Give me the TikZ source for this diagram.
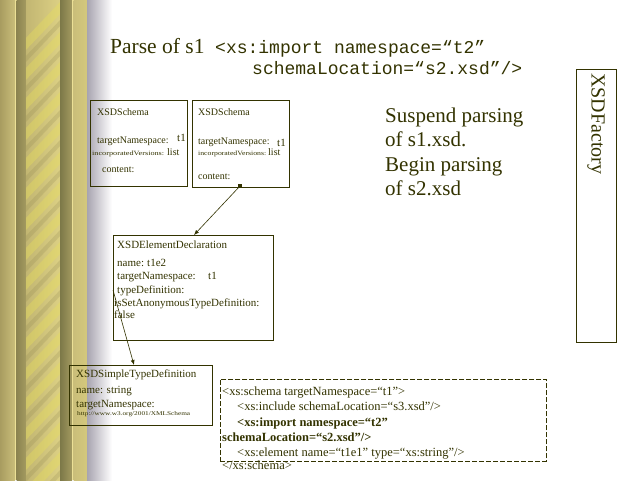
\documentclass[tikz,border=0pt]{standalone}
\usepackage{fontspec}
\setmainfont{Liberation Serif}
\setmonofont{Liberation Mono}
\usetikzlibrary{arrows.meta}
\definecolor{ink}{HTML}{333300}
\definecolor{goldA}{HTML}{A89C60}
\definecolor{goldB}{HTML}{CABE7A}
\definecolor{goldC}{HTML}{8C8450}
\definecolor{goldD}{HTML}{A39A60}
\definecolor{goldE}{HTML}{C2B672}
\definecolor{goldF}{HTML}{DCD084}
\definecolor{goldG}{HTML}{7C7848}
\definecolor{goldH}{HTML}{D4C87C}
\definecolor{goldLine}{HTML}{ECE096}
\definecolor{shadowA}{HTML}{A8A4B0}
\newcommand{\fsz}[1]{\fontsize{#1}{#1}\selectfont}
% tiny label squeezed into a fixed width and height
\newcommand{\tinylbl}[3]{\resizebox{#1}{#2}{\fsz{6}#3}}
\tikzset{
  lbl/.style={anchor=base west, inner sep=0pt, text=ink},
  umlbox/.style={draw=ink, line width=0.8pt, anchor=north west, inner sep=0pt},
  link/.style={draw=ink, line width=0.6pt, -{Latex[length=5pt,width=4pt]}},
}
\begin{document}
\begin{tikzpicture}[x=1pt,y=-1pt]
\useasboundingbox (0,0) rectangle (640,480);
\fill[white] (0,0) rectangle (640,480);

% decorative column on the left edge
\shade[left color=goldA, right color=goldB] (0,0) rectangle (15,480);
\fill[goldLine] (15,0) rectangle (16.5,480);
\shade[left color=goldC, right color=goldD] (16.5,0) rectangle (26,480);
\shade[left color=goldE, right color=goldF] (26,0) rectangle (60,480);
\begin{scope}
  \clip (26,0) rectangle (60,480);
  \foreach \k in {0,...,17} {
    \fill[goldF!70!yellow, opacity=0.4]
      (24,{30*\k+40}) -- (62,{30*\k}) -- (62,{30*\k+12}) -- (24,{30*\k+52}) -- cycle;
    \fill[goldC, opacity=0.22]
      (24,{30*\k+58}) -- (62,{30*\k+18}) -- (62,{30*\k+24}) -- (24,{30*\k+64}) -- cycle;
  }
\end{scope}
\shade[left color=goldG, right color=goldD] (60,0) rectangle (72,480);
\fill[goldLine] (72,0) rectangle (73.5,480);
\shade[left color=goldB, right color=goldH] (73.5,0) rectangle (87,480);
\shade[left color=shadowA, right color=white] (87,0) rectangle (112,480);

% title
\node[lbl] (title) at (110,53) {\fsz{21.5}Parse of s1};
\node[lbl] (imp1) at (215,53) {\fsz{18}\ttfamily <xs:import namespace=“t2”};
\node[lbl] (imp2) at (252,74) {\fsz{18}\ttfamily schemaLocation=“s2.xsd”/>};

% first schema object
\node[umlbox, minimum width=97pt, minimum height=86pt] (sA) at (90,100) {};
\node[lbl] (sAname) at (97,115) {\fsz{10}XSDSchema};
\node[lbl] (sAtns) at (97,143) {\fsz{10}targetNamespace:};
\node[lbl] (sAtnsv) at (177,141) {\fsz{11}t1};
\node[lbl] (sAinc) at (92,155) {\tinylbl{72pt}{4.5pt}{incorporatedVersions:}};
\node[lbl] (sAincv) at (167,155) {\fsz{10}list};
\node[lbl] (sAcont) at (102,172) {\fsz{10}content:};

% second schema object
\node[umlbox, minimum width=97pt, minimum height=87pt] (sB) at (192,100) {};
\node[lbl] (sBname) at (198,115) {\fsz{10}XSDSchema};
\node[lbl] (sBtns) at (198,144) {\fsz{10}targetNamespace:};
\node[lbl] (sBtnsv) at (277,146) {\fsz{11}t1};
\node[lbl] (sBinc) at (198,155) {\tinylbl{68pt}{4.5pt}{incorporatedVersions:}};
\node[lbl] (sBincv) at (268,155) {\fsz{10}list};
\node[lbl] (sBcont) at (198,179) {\fsz{10}content:};

% element declaration
\node[umlbox, minimum width=160pt, minimum height=105pt] (ed) at (113,235) {};
\node[lbl] (edname) at (117,248) {\fsz{11}XSDElementDeclaration};
\node[lbl] (edn) at (117,266) {\fsz{11}name:};
\node[lbl] (ednv) at (147,266) {\fsz{11}t1e2};
\node[lbl] (edt) at (117,279) {\fsz{11}targetNamespace:};
\node[lbl] (edtv) at (208,279) {\fsz{11}t1};
\node[lbl] (edtd) at (117,293) {\fsz{11}typeDefinition:};
\node[lbl] (edanon) at (114,306) {\fsz{11}isSetAnonymousTypeDefinition:};
\node[lbl] (edfalse) at (114,318) {\fsz{11}false};

% simple type definition
\node[umlbox, minimum width=143pt, minimum height=60pt] (st) at (69,365) {};
\node[lbl] (stname) at (76,377) {\fsz{11}XSDSimpleTypeDefinition};
\node[lbl] (stn) at (76,393) {\fsz{11}name: string};
\node[lbl] (stt) at (76,407) {\fsz{11}targetNamespace:};
\node[lbl] (sturl) at (77,415) {\tinylbl{113pt}{4pt}{http://www.w3.org/2001/XMLSchema}};

% source of s1.xsd
\node[umlbox, draw=ink, dash pattern=on 5pt off 2pt, line width=0.7pt, minimum width=326pt, minimum height=82pt] (src) at (220,379) {};
\node[lbl] (src1) at (222,395) {\fsz{12.5}<xs:schema targetNamespace=“t1”>};
\node[lbl] (src2) at (237,410) {\fsz{12.5}<xs:include schemaLocation=“s3.xsd”/>};
\node[lbl] (src3) at (237,426) {\fsz{12.5}\bfseries <xs:import namespace=“t2”};
\node[lbl] (src4) at (222,441) {\fsz{12.5}\bfseries schemaLocation=“s2.xsd”/>};
\node[lbl] (src5) at (237,456) {\fsz{12.5}<xs:element name=“t1e1” type=“xs:string”/>};
\node[lbl] (src6) at (222,469) {\fsz{12.5}</xs:schema>};

% status message
\node[lbl] (msg1) at (385,122) {\fsz{21}Suspend parsing};
\node[lbl] (msg2) at (385,146.5) {\fsz{21}of s1.xsd.};
\node[lbl] (msg3) at (385,171) {\fsz{21}Begin parsing};
\node[lbl] (msg4) at (385,195.5) {\fsz{21}of s2.xsd};

% factory
\node[umlbox, minimum width=40pt, minimum height=273pt] (fac) at (576,69) {};
\node[anchor=west, inner sep=0pt, text=ink, rotate=-90] (facname) at (596,73) {\fsz{20}XSDFactory};

% references
\coordinate (contB) at (240,186);
\coordinate (edIn) at (194,235);
\coordinate (tdOut) at (113,290);
\coordinate (stIn) at (134,365);
\fill[ink] ([shift={(-2,-2)}]contB) rectangle ([shift={(2,2)}]contB);
\draw[link] (contB) -- (edIn);
\draw[link] (tdOut) -- (stIn);
\end{tikzpicture}
\end{document}
